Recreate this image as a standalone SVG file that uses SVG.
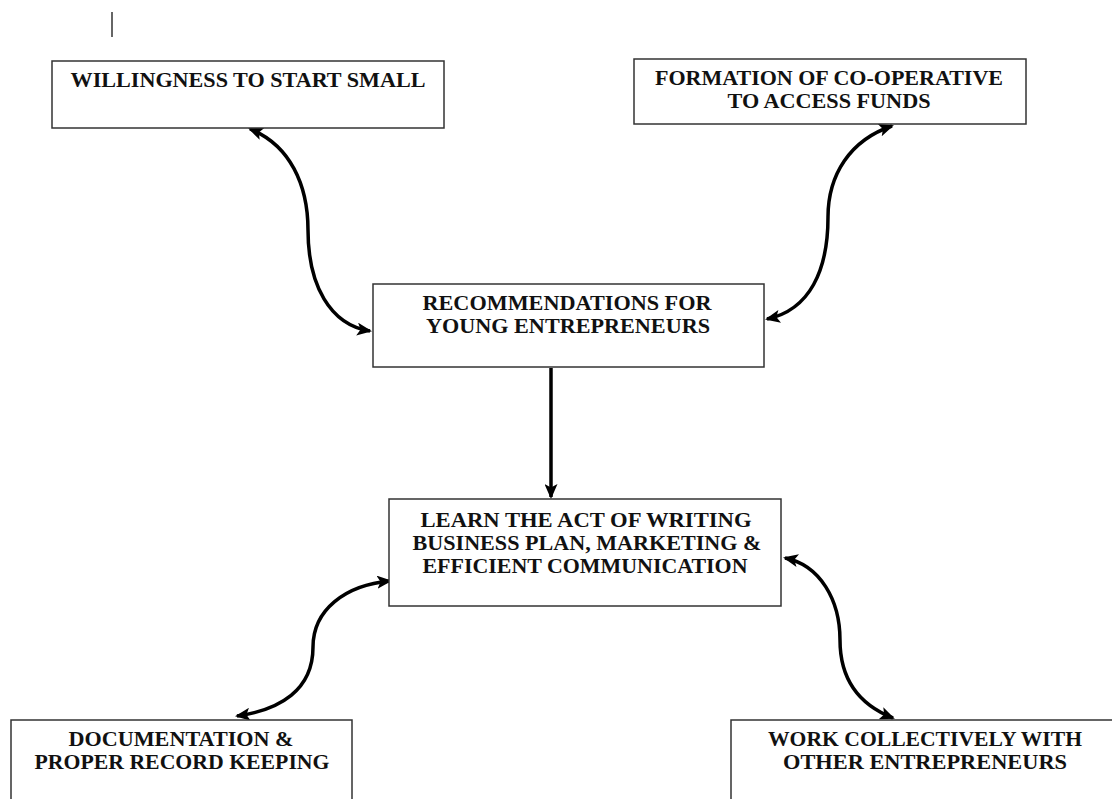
<svg xmlns="http://www.w3.org/2000/svg" width="1112" height="799" viewBox="0 0 1112 799">
  <style>
    .box { fill: #ffffff; stroke: #333333; stroke-width: 1.5; }
    .lbl { font-family: "Liberation Serif", "DejaVu Serif", serif; font-weight: bold; font-size: 20px; fill: #111111; text-anchor: middle; }
    .conn { fill: none; stroke: #000000; stroke-width: 3.5; }
  </style>
  <defs>
    <marker id="ah" markerUnits="userSpaceOnUse" markerWidth="15" markerHeight="13" refX="13" refY="6.5" orient="auto-start-reverse">
      <path d="M0,0 L15,6.5 L0,13 L3.5,6.5 z" fill="#000000"/>
    </marker>
  </defs>
  <rect width="1112" height="799" fill="#ffffff"/>
  <line x1="112" y1="12" x2="112" y2="37" stroke="#333333" stroke-width="1.5"/>

  <g id="connectors">
    <path class="conn" d="M 250,129 C 290,145 308,185 308,230 C 308,285 330,325 370,331" marker-start="url(#ah)" marker-end="url(#ah)"/>
    <path class="conn" d="M 892,126 C 850,140 828,175 828,217 C 828,270 810,310 767,319" marker-start="url(#ah)" marker-end="url(#ah)"/>
    <path class="conn" d="M 551,368 L 551,497" marker-end="url(#ah)"/>
    <path class="conn" d="M 390,581 C 345,585 313,610 313,647 C 313,690 280,710 237,716" marker-start="url(#ah)" marker-end="url(#ah)"/>
    <path class="conn" d="M 785,558 C 820,565 840,600 840,640 C 840,680 860,705 893,718" marker-start="url(#ah)" marker-end="url(#ah)"/>
  </g>

  <g id="node-willingness">
    <rect class="box" x="52" y="61" width="392" height="67"/>
    <text class="lbl" x="248" y="87" textLength="355" lengthAdjust="spacingAndGlyphs">WILLINGNESS TO START SMALL</text>
  </g>
  <g id="node-formation">
    <rect class="box" x="634" y="59" width="392" height="65"/>
    <text class="lbl" x="829" y="85" textLength="348" lengthAdjust="spacingAndGlyphs">FORMATION OF CO-OPERATIVE</text>
    <text class="lbl" x="829" y="108" textLength="203" lengthAdjust="spacingAndGlyphs">TO ACCESS FUNDS</text>
  </g>
  <g id="node-recommendations">
    <rect class="box" x="373" y="284" width="391" height="83"/>
    <text class="lbl" x="567" y="310" textLength="289" lengthAdjust="spacingAndGlyphs">RECOMMENDATIONS FOR</text>
    <text class="lbl" x="568" y="333" textLength="284" lengthAdjust="spacingAndGlyphs">YOUNG ENTREPRENEURS</text>
  </g>
  <g id="node-learn">
    <rect class="box" x="389" y="499" width="392" height="107"/>
    <text class="lbl" x="586" y="527" textLength="331" lengthAdjust="spacingAndGlyphs">LEARN THE ACT OF WRITING</text>
    <text class="lbl" x="587" y="550" textLength="349" lengthAdjust="spacingAndGlyphs">BUSINESS PLAN, MARKETING &amp;</text>
    <text class="lbl" x="585" y="573" textLength="325" lengthAdjust="spacingAndGlyphs">EFFICIENT COMMUNICATION</text>
  </g>
  <g id="node-documentation">
    <rect class="box" x="11" y="720" width="341" height="100"/>
    <text class="lbl" x="181" y="746" textLength="225" lengthAdjust="spacingAndGlyphs">DOCUMENTATION &amp;</text>
    <text class="lbl" x="182" y="769" textLength="295" lengthAdjust="spacingAndGlyphs">PROPER RECORD KEEPING</text>
  </g>
  <g id="node-work">
    <rect class="box" x="731" y="720" width="390" height="100"/>
    <text class="lbl" x="925" y="746" textLength="314" lengthAdjust="spacingAndGlyphs">WORK COLLECTIVELY WITH</text>
    <text class="lbl" x="925" y="769" textLength="284" lengthAdjust="spacingAndGlyphs">OTHER ENTREPRENEURS</text>
  </g>
</svg>
